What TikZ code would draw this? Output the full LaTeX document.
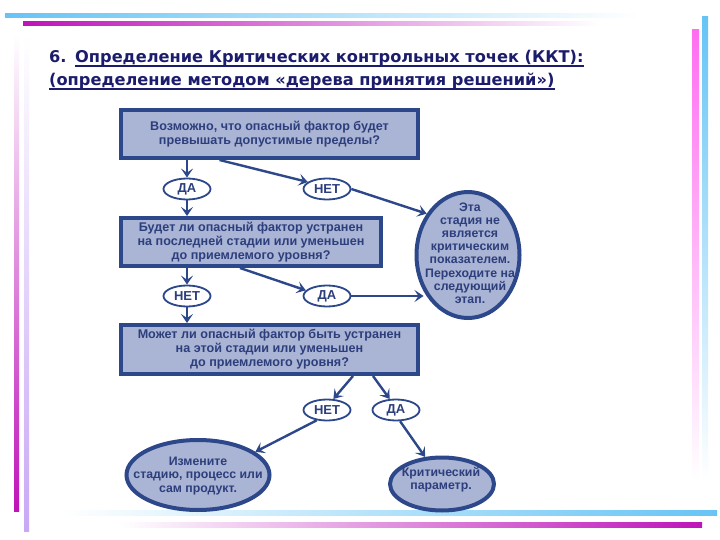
\documentclass[tikz,border=0pt]{standalone}
\usepackage{fontspec}
\setmainfont{Liberation Sans}
\newfontfamily\titlefont{DejaVu Sans}
\usetikzlibrary{arrows.meta,shapes.geometric,calc}
\definecolor{navy}{RGB}{28,28,108}
\definecolor{dkblue}{RGB}{45,72,138}
\definecolor{boxfill}{RGB}{170,180,212}
\definecolor{txtblue}{RGB}{45,62,125}
\definecolor{barblue}{RGB}{102,196,245}
\definecolor{barmag}{RGB}{190,20,185}
\definecolor{barpink}{RGB}{255,110,240}
\definecolor{barlav}{RGB}{200,168,245}
\tikzset{
  qbox/.style={draw=dkblue, line width=4pt, fill=boxfill, inner sep=0pt, align=center,
    text=txtblue, font=\bfseries\fontsize{12.6}{14}\selectfont},
  smell/.style={ellipse, draw=dkblue, line width=1.8pt, fill=white, inner sep=0pt,
    minimum width=47pt, minimum height=21pt, text=txtblue, font=\bfseries\fontsize{13}{14}\selectfont},
  bigell/.style={ellipse, draw=dkblue, line width=4pt, fill=boxfill, inner sep=0pt},
  elltext/.style={align=center, text=txtblue, inner sep=0pt, font=\bfseries\fontsize{12.3}{13.2}\selectfont},
  arr/.style={draw=dkblue, line width=2.4pt, -{Stealth[length=9pt,width=12pt,inset=4pt]}},
  ttl/.style={anchor=base west, inner sep=0pt, text=navy, font=\titlefont\bfseries\fontsize{16.2}{18}\selectfont}
}
\begin{document}
\begin{tikzpicture}[x=1pt,y=-1pt]
\useasboundingbox (0,0) rectangle (720,540);
\fill[white] (0,0) rectangle (720,540);
% decorative bars
\shade[left color=barblue, right color=white] (5,14) rectangle (640,18);
\shade[left color=barmag, right color=white] (23,22) rectangle (600,26);
\shade[top color=barpink, bottom color=white] (692,30) rectangle (699,480);
\shade[top color=barblue, bottom color=white] (702,17) rectangle (708,480);
\shade[top color=white, bottom color=barmag] (14,35) rectangle (19,511);
\shade[top color=white, bottom color=barlav] (24,35) rectangle (29,531);
\shade[left color=white, right color=barblue] (60,510) rectangle (717,515);
\shade[left color=white, right color=barmag] (120,522) rectangle (702,527);
% title
\node[ttl] (t0) at (49,63) {6.};
\node[ttl] (t1) at (75,63) {Определение Критических контрольных точек (ККТ):};
\node[ttl] (t2) at (49,86) {(определение методом «дерева принятия решений»)};
\draw[navy, line width=1.3pt] ($(t1.base west)+(0,3)$) -- ($(t1.base east)+(0,3)$);
\draw[navy, line width=1.3pt] ($(t2.base west)+(0,3)$) -- ($(t2.base east)+(0,3)$);
% boxes
\node[qbox, minimum width=297pt, minimum height=48pt] (B1) at (269.5,134)
  {Возможно, что опасный фактор будет\\превышать допустимые пределы?};
\node[qbox, minimum width=260pt, minimum height=48pt] (B2) at (251,242)
  {Будет ли опасный фактор устранен\\на последней стадии или уменьшен\\до приемлемого уровня?};
\node[qbox, minimum width=297pt, minimum height=49pt] (B3) at (269.5,349.5)
  {Может ли опасный фактор быть устранен\\на этой стадии или уменьшен\\до приемлемого уровня?};
% small ellipses
\node[smell] (D1) at (187,189) {ДА};
\node[smell] (N1) at (327,189) {НЕТ};
\node[smell] (N2) at (187,296) {НЕТ};
\node[smell] (D2) at (327,296) {ДА};
\node[smell] (N3) at (327,410) {НЕТ};
\node[smell] (D3) at (396,410) {ДА};
% big ellipses
\node[bigell, minimum width=103pt, minimum height=126pt] (R) at (468,255) {};
\node[elltext] (Rt) at (470,253) {Эта\\стадия не\\является\\критическим\\показателем.\\Переходите на\\следующий\\этап.};
\node[bigell, minimum width=143pt, minimum height=70pt] (BL) at (198,475) {};
\node[elltext] (BLt) at (198,476) {Измените\\стадию, процесс или\\сам продукт.};
\node[bigell, minimum width=104pt, minimum height=53pt] (BR) at (442,484) {};
\node[elltext] (BRt) at (441,480) {Критический\\параметр.};
% connectors
\draw[arr] (B1.south -| D1) -- (D1.north);
\draw[arr] (D1.south) -- (B2.north -| D1);
\draw[arr] ($(B1.south)+(-50,0)$) -- (N1.160);
\draw[arr] (N1.east) -- (R.135);
\draw[arr] (B2.south -| N2) -- (N2.north);
\draw[arr] (N2.south) -- (B3.north -| N2);
\draw[arr] ($(B2.south)+(-11,0)$) -- (D2.165);
\draw[arr] (D2.east) -- ($(D2.east -| R.west)+(9,0)$);
\draw[arr] ($(B3.south)+(83.5,0)$) -- (N3.60);
\draw[arr] ($(B3.south)+(103.5,0)$) -- (D3.120);
\draw[arr] (N3.225) -- (BL.22);
\draw[arr] (D3.290) -- (BR.122);
\end{tikzpicture}
\end{document}
